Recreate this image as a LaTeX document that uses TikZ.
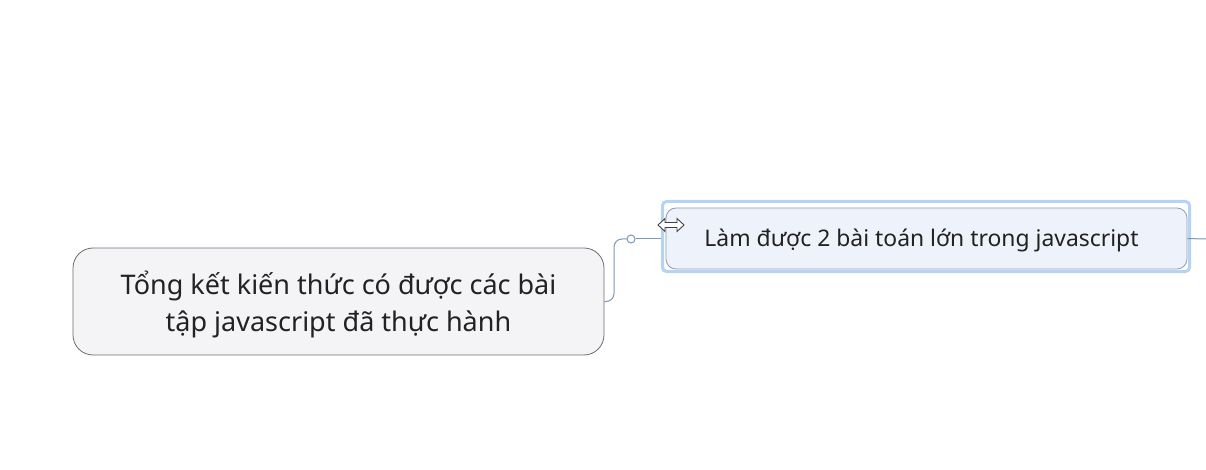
\documentclass[tikz,border=0pt]{standalone}
\usepackage{fontspec}
\setmainfont{Noto Sans}
\usetikzlibrary{arrows.meta}
\definecolor{rootfill}{HTML}{F4F4F6}
\definecolor{rootline}{HTML}{6E6E70}
\definecolor{childfill}{HTML}{EEF3FB}
\definecolor{childline}{HTML}{8C9CB2}
\definecolor{selblue}{HTML}{B5D3F3}
\definecolor{linkblue}{HTML}{7C98B8}
\definecolor{textgray}{HTML}{222222}
\begin{document}
\begin{tikzpicture}[x=1pt,y=-1pt,
	rootbox/.style={draw=rootline, fill=rootfill, rounded corners=20pt, minimum width=531pt, minimum height=107pt, align=center, text=textgray, font=\fontsize{27}{37}\selectfont, line width=0.8pt},
	childbox/.style={draw=childline, fill=childfill, rounded corners=10pt, minimum width=521pt, minimum height=61pt, text=textgray, font=\fontsize{22.9}{26}\selectfont, line width=0.8pt},
	selbox/.style={draw=selblue, rounded corners=4pt, minimum width=527pt, minimum height=70pt, line width=3pt},
	link/.style={draw=linkblue, line width=1pt}]
		\useasboundingbox[fill=white] (0,0) rectangle (1206,470);
		\node[rootbox] (root) at (338.5,301.5) {};
		\node[align=center, text=textgray, font=\fontsize{27}{37}\selectfont] (roottext) at (338.5,304) {Tổng kết kiến thức có được các bài\\tập javascript đã thực hành};
		\node[selbox] (sel) at (926,236.5) {};
		\node[childbox] (child) at (926.5,238.5) {};
		\node[text=textgray, font=\fontsize{22.9}{26}\selectfont] (childtext) at (921.5,240) {Làm được 2 bài toán lớn trong javascript};
		\node[draw=linkblue, fill=white, circle, inner sep=0pt, minimum size=8pt, line width=1pt] (dot) at (631,239) {};
		\coordinate (bend) at (614,239);
		\coordinate (out) at (1206,239);
		\draw[link, rounded corners=8pt] (root.east) -| (bend) -- (dot.west);
		\draw[link] (dot.east) -- (dot.east -| sel.west);
		\draw[link] (child.east) -- (out);
		\draw[fill=white, draw=black!75, line width=0.9pt, line join=miter] (658,225) -- (665,218.5) -- (665,222.5) -- (677,222.5) -- (677,218.5) -- (684,225) -- (677,231.5) -- (677,227.5) -- (665,227.5) -- (665,231.5) -- cycle;
\end{tikzpicture}
\end{document}
